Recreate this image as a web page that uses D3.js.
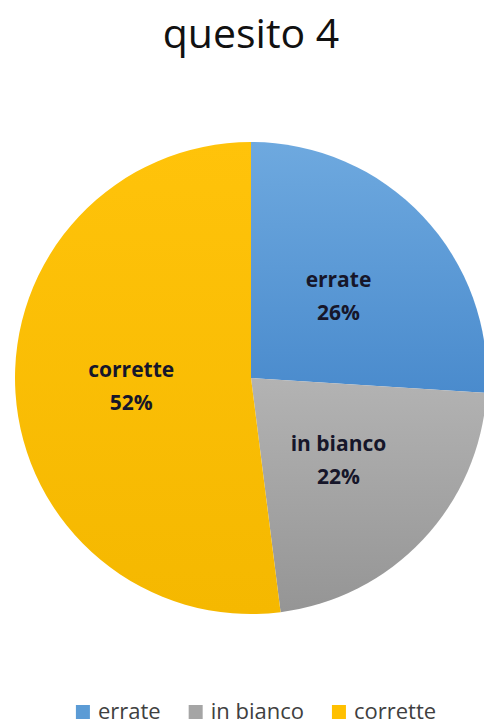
<!DOCTYPE html>
<html>
<head>
<meta charset="utf-8">
<script src="https://cdn.jsdelivr.net/npm/d3@7"></script>
<style>
  html, body { margin: 0; padding: 0; background: #fff; }
  svg { display: block; }
</style>
</head>
<body>
<svg id="chart" width="484" height="726"></svg>
<script>
// Answers to question 4
const categories = ["errate", "in bianco", "corrette"];
const values = [26, 22, 52];
const colorsTop = ["#6EA9DF", "#B3B3B3", "#FFC30A"];
const colorsBottom = ["#4A8BCD", "#959595", "#F5B800"];
const legendColors = ["#5B9BD5", "#A5A5A5", "#FFC000"];
const title = "quesito 4";

const svg = d3.select("#chart");
const cx = 251, cy = 378, R = 236;

const data = categories.map((c, i) => ({ name: c, value: values[i], i }));

// vertical shading for each slice
const defs = svg.append("defs");
data.forEach(d => {
  const g = defs.append("linearGradient")
    .attr("id", "grad" + d.i)
    .attr("x1", 0).attr("y1", 0).attr("x2", 0).attr("y2", 1);
  g.append("stop").attr("offset", "0%").attr("stop-color", colorsTop[d.i]);
  g.append("stop").attr("offset", "100%").attr("stop-color", colorsBottom[d.i]);
});

svg.append("text")
  .attr("x", 251).attr("y", 48)
  .attr("text-anchor", "middle")
  .attr("font-family", "'Open Sans', sans-serif")
  .attr("font-size", 41)
  .attr("fill", "#111")
  .text(title);

const pie = d3.pie().value(d => d.value).sort(null);
const arcs = pie(data);
const arc = d3.arc().innerRadius(0).outerRadius(R);
const labelArc = d3.arc().innerRadius(120).outerRadius(120);

const g = svg.append("g").attr("transform", `translate(${cx},${cy})`);

g.selectAll("path.slice")
  .data(arcs)
  .join("path")
  .attr("class", "slice")
  .attr("d", arc)
  .attr("fill", d => `url(#grad${d.data.i})`);

const labels = g.selectAll("g.lbl")
  .data(arcs)
  .join("g")
  .attr("class", "lbl")
  .attr("transform", d => `translate(${labelArc.centroid(d)})`);

labels.append("text")
  .attr("text-anchor", "middle")
  .attr("y", -9)
  .attr("font-family", "'Open Sans', sans-serif")
  .attr("font-weight", "bold")
  .attr("font-size", 21)
  .attr("fill", "#16162a")
  .text(d => d.data.name);

labels.append("text")
  .attr("text-anchor", "middle")
  .attr("y", 24)
  .attr("font-family", "'Open Sans', sans-serif")
  .attr("font-weight", "bold")
  .attr("font-size", 21)
  .attr("fill", "#16162a")
  .text(d => d.data.value + "%");

// legend row
const legend = svg.append("g");
const sq = 14, gapText = 8, gapItem = 28;
let x = 0;
const items = legend.selectAll("g.item")
  .data(data)
  .join("g")
  .attr("class", "item");
items.append("rect")
  .attr("width", sq).attr("height", sq)
  .attr("y", -14)
  .attr("fill", d => legendColors[d.i]);
items.append("text")
  .attr("x", sq + gapText)
  .attr("font-family", "'Open Sans', sans-serif")
  .attr("font-size", 22)
  .attr("fill", "#404040")
  .text(d => d.name);
items.each(function() {
  const w = this.getBBox().width;
  d3.select(this).attr("transform", `translate(${x},0)`);
  x += w + gapItem;
});
const total = x - gapItem;
legend.attr("transform", `translate(${256 - total / 2},719)`);
</script>
</body>
</html>
